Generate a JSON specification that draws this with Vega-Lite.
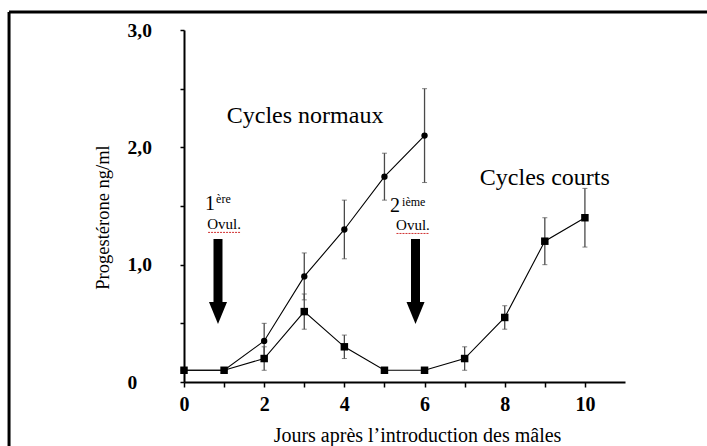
{
  "$schema": "https://vega.github.io/schema/vega-lite/v6.json",
  "width": 441,
  "height": 352,
  "autosize": "none",
  "padding": {"left": 184, "top": 30, "right": 82, "bottom": 64},
  "background": "white",
  "config": {"view": {"stroke": null}, "font": "Liberation Serif"},
  "datasets": {
    "series": [
      {"serie": "normaux", "day": 0, "value": 0.1, "lo": null, "hi": null},
      {"serie": "normaux", "day": 1, "value": 0.1, "lo": null, "hi": null},
      {"serie": "normaux", "day": 2, "value": 0.35, "lo": 0.2, "hi": 0.5},
      {"serie": "normaux", "day": 3, "value": 0.9, "lo": 0.7, "hi": 1.1},
      {"serie": "normaux", "day": 4, "value": 1.3, "lo": 1.05, "hi": 1.55},
      {"serie": "normaux", "day": 5, "value": 1.75, "lo": 1.55, "hi": 1.95},
      {"serie": "normaux", "day": 6, "value": 2.1, "lo": 1.7, "hi": 2.5},
      {"serie": "courts", "day": 0, "value": 0.1, "lo": null, "hi": null},
      {"serie": "courts", "day": 1, "value": 0.1, "lo": null, "hi": null},
      {"serie": "courts", "day": 2, "value": 0.2, "lo": 0.1, "hi": 0.3},
      {"serie": "courts", "day": 3, "value": 0.6, "lo": 0.45, "hi": 0.75},
      {"serie": "courts", "day": 4, "value": 0.3, "lo": 0.2, "hi": 0.4},
      {"serie": "courts", "day": 5, "value": 0.1, "lo": null, "hi": null},
      {"serie": "courts", "day": 6, "value": 0.1, "lo": null, "hi": null},
      {"serie": "courts", "day": 7, "value": 0.2, "lo": 0.1, "hi": 0.3},
      {"serie": "courts", "day": 8, "value": 0.55, "lo": 0.45, "hi": 0.65},
      {"serie": "courts", "day": 9, "value": 1.2, "lo": 1.0, "hi": 1.4},
      {"serie": "courts", "day": 10, "value": 1.4, "lo": 1.15, "hi": 1.65}
    ],
    "labels": [
      {"kind": "big", "x": 3.02, "y": 2.207, "text": "Cycles normaux"},
      {"kind": "big", "x": 9.0, "y": 1.679, "text": "Cycles courts"},
      {"kind": "num", "x": 0.524, "y": 1.466, "text": "1"},
      {"kind": "num", "x": 5.14, "y": 1.45, "text": "2"},
      {"kind": "sup", "x": 0.80, "y": 1.526, "text": "ère"},
      {"kind": "sup", "x": 5.44, "y": 1.5, "text": "ième"},
      {"kind": "ovul", "x": 1.0, "y": 1.304, "text": "Ovul."},
      {"kind": "ovul", "x": 5.71, "y": 1.295, "text": "Ovul."}
    ],
    "squiggles": [
      {"x": 0.6, "x2": 1.4, "y": 1.275},
      {"x": 5.3, "x2": 6.12, "y": 1.266}
    ],
    "arrows": [
      {"x": 0.848},
      {"x": 5.775}
    ]
  },
  "layer": [
    {
      "data": {"values": [{}]},
      "mark": {"type": "rule", "color": "black", "strokeWidth": 3},
      "encoding": {
        "x": {"datum": -4.364, "type": "quantitative", "scale": {"domain": [0, 11], "nice": false}},
        "y": {"datum": -0.7, "type": "quantitative", "scale": {"domain": [0, 3], "nice": false}},
        "y2": {"datum": 3.153}
      }
    },
    {
      "data": {"values": [{}]},
      "mark": {"type": "rule", "color": "black", "strokeWidth": 3},
      "encoding": {
        "x": {"datum": -4.364, "type": "quantitative"},
        "x2": {"datum": 13.3},
        "y": {"datum": 3.153, "type": "quantitative"}
      }
    },
    {
      "data": {"name": "series"},
      "transform": [{"filter": "isValid(datum.lo)"}],
      "mark": {"type": "rule", "color": "#4a4a4a", "strokeWidth": 1.3},
      "encoding": {
        "x": {"field": "day", "type": "quantitative"},
        "y": {"field": "lo", "type": "quantitative"},
        "y2": {"field": "hi"}
      }
    },
    {
      "data": {"name": "series"},
      "transform": [{"filter": "isValid(datum.lo)"}, {"fold": ["lo", "hi"], "as": ["end", "bound"]}],
      "mark": {"type": "tick", "orient": "horizontal", "color": "#4a4a4a", "size": 5, "thickness": 1},
      "encoding": {
        "x": {"field": "day", "type": "quantitative"},
        "y": {"field": "bound", "type": "quantitative"}
      }
    },
    {
      "data": {"name": "series"},
      "mark": {"type": "line", "color": "black", "strokeWidth": 1.1},
      "encoding": {
        "x": {
          "field": "day", "type": "quantitative",
          "axis": {
            "title": "Jours après l’introduction des mâles",
            "values": [0, 1, 2, 3, 4, 5, 6, 7, 8, 9, 10],
            "labelExpr": "datum.value % 2 == 0 ? datum.label : ''",
            "labelFont": "Liberation Serif", "labelFontSize": 20, "labelFontWeight": "bold", "labelColor": "black",
            "labelPadding": 7, "labelFlush": false, "labelOverlap": false,
            "tickSize": 5, "tickColor": "black", "tickWidth": 1.5,
            "domainColor": "black", "domainWidth": 2, "grid": false,
            "titleFont": "Liberation Serif", "titleFontSize": 20, "titleFontWeight": "normal", "titleColor": "black",
            "titleX": 233, "titleY": 59, "titleBaseline": "alphabetic", "titleAlign": "center"
          }
        },
        "y": {
          "field": "value", "type": "quantitative",
          "axis": {
            "title": "Progestérone ng/ml",
            "values": [0, 0.5, 1, 1.5, 2, 2.5, 3],
            "labelExpr": "datum.value == 0 ? '0' : (datum.value % 1 == 0 ? replace(format(datum.value, '.1f'), '.', ',') : '')",
            "labelFont": "Liberation Serif", "labelFontSize": 19.5, "labelFontWeight": "bold", "labelColor": "black",
            "labelAlign": "left", "labelPadding": 53, "labelOverlap": false,
            "tickSize": 4, "tickColor": "black", "tickWidth": 1.5,
            "domainColor": "black", "domainWidth": 2, "grid": false,
            "titleFont": "Liberation Serif", "titleFontSize": 18.5, "titleFontWeight": "normal", "titleColor": "black",
            "titleX": -82, "titleY": 187, "titleAngle": -90, "titleAlign": "center", "titleBaseline": "middle"
          }
        },
        "detail": {"field": "serie"},
        "order": {"field": "day"}
      }
    },
    {
      "data": {"name": "series"},
      "mark": {"type": "point", "filled": true, "color": "black", "opacity": 1},
      "encoding": {
        "x": {"field": "day", "type": "quantitative"},
        "y": {"field": "value", "type": "quantitative"},
        "shape": {"field": "serie", "type": "nominal", "scale": {"domain": ["normaux", "courts"], "range": ["circle", "square"]}, "legend": null},
        "size": {"field": "serie", "type": "nominal", "scale": {"domain": ["normaux", "courts"], "range": [40, 56]}, "legend": null}
      }
    },
    {
      "data": {"name": "arrows"},
      "mark": {"type": "rule", "color": "black", "strokeWidth": 9, "strokeCap": "butt"},
      "encoding": {
        "x": {"field": "x", "type": "quantitative"},
        "y": {"datum": 1.219, "type": "quantitative"},
        "y2": {"datum": 0.67}
      }
    },
    {
      "data": {"name": "arrows"},
      "mark": {"type": "point", "filled": true, "color": "black", "opacity": 1, "shape": "M-0.82,-1L0.82,-1L0,1Z", "size": 484},
      "encoding": {
        "x": {"field": "x", "type": "quantitative"},
        "y": {"datum": 0.588, "type": "quantitative"}
      }
    },
    {
      "data": {"name": "squiggles"},
      "mark": {"type": "rule", "color": "#d03030", "strokeWidth": 1, "strokeDash": [2, 1]},
      "encoding": {
        "x": {"field": "x", "type": "quantitative"},
        "x2": {"field": "x2"},
        "y": {"field": "y", "type": "quantitative"}
      }
    },
    {
      "data": {"name": "labels"},
      "transform": [{"filter": "datum.kind == 'big'"}],
      "mark": {"type": "text", "font": "Liberation Serif", "fontSize": 24, "align": "center", "baseline": "alphabetic", "color": "black"},
      "encoding": {
        "x": {"field": "x", "type": "quantitative"},
        "y": {"field": "y", "type": "quantitative"},
        "text": {"field": "text"}
      }
    },
    {
      "data": {"name": "labels"},
      "transform": [{"filter": "datum.kind == 'num'"}],
      "mark": {"type": "text", "font": "Liberation Serif", "fontSize": 20, "align": "left", "baseline": "alphabetic", "color": "black"},
      "encoding": {
        "x": {"field": "x", "type": "quantitative"},
        "y": {"field": "y", "type": "quantitative"},
        "text": {"field": "text"}
      }
    },
    {
      "data": {"name": "labels"},
      "transform": [{"filter": "datum.kind == 'sup'"}],
      "mark": {"type": "text", "font": "Liberation Serif", "fontSize": 12, "align": "left", "baseline": "alphabetic", "color": "black"},
      "encoding": {
        "x": {"field": "x", "type": "quantitative"},
        "y": {"field": "y", "type": "quantitative"},
        "text": {"field": "text"}
      }
    },
    {
      "data": {"name": "labels"},
      "transform": [{"filter": "datum.kind == 'ovul'"}],
      "mark": {"type": "text", "font": "Liberation Serif", "fontSize": 15, "align": "center", "baseline": "alphabetic", "color": "black"},
      "encoding": {
        "x": {"field": "x", "type": "quantitative"},
        "y": {"field": "y", "type": "quantitative"},
        "text": {"field": "text"}
      }
    }
  ]
}
